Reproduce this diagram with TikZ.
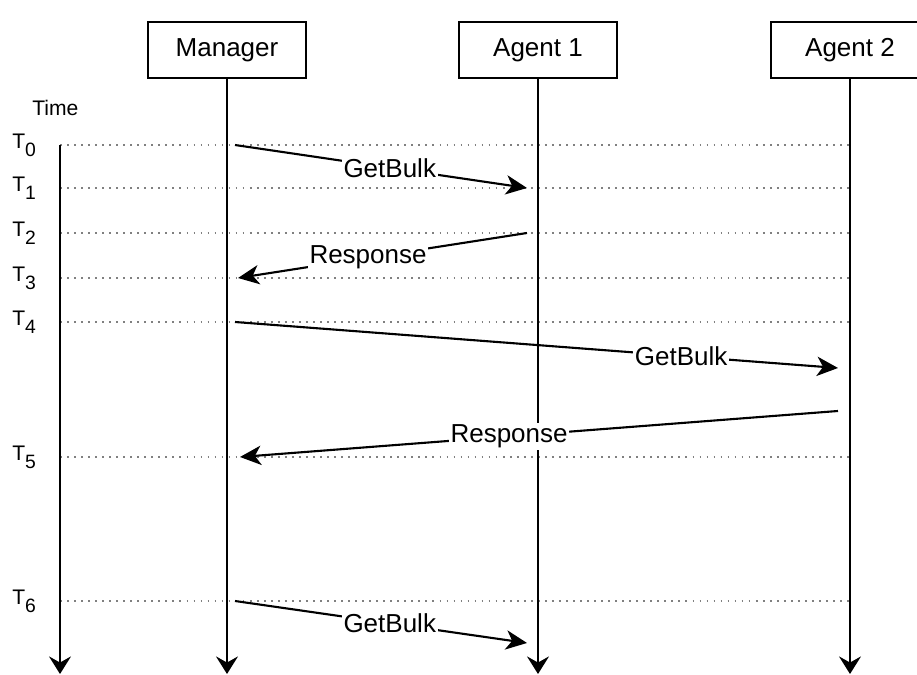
\documentclass[tikz,border=0pt]{standalone}
\usepackage{fontspec}
\setmainfont{Liberation Sans}
\usetikzlibrary{arrows.meta}

\newcommand{\tlabel}[1]{T\raisebox{-4.5pt}{\fontsize{11}{13}\selectfont #1}}

\begin{document}
\begin{tikzpicture}[x=0.02cm, y=-0.02cm, font=\fontsize{14.8}{17}\selectfont,
    actor/.style={draw, line width=0.9pt, minimum width=3.15cm, minimum height=1.12cm, inner sep=0pt},
    life/.style={line width=1.2pt, -{Stealth[length=10pt, width=12.5pt, inset=3.5pt]}},
    tick/.style={gray, line width=1pt, dash pattern=on 1pt off 3pt},
    msg/.style={line width=1.2pt, -{Stealth[length=12pt, width=11pt, inset=3.5pt]}},
    lbl/.style={fill=white, inner sep=1pt}]
    \useasboundingbox (0,0) rectangle (917,675);

    % Actors
    \node[actor] (mgr) at (227,50) {Manager};
    \node[actor] (ag1) at (538,50) {Agent 1};
    \node[actor] (ag2) at (850,50) {Agent 2};

    % Time axis
    \node[anchor=base west, inner sep=0pt, font=\fontsize{12}{14}\selectfont] (time) at (32,116) {Time};
    \coordinate (time-top) at (60,145);
    \coordinate (time-end) at (60,674);

    % Ticks
    \foreach \i/\y in {0/145, 1/188, 2/233, 3/278, 4/322, 5/457, 6/601} {
        \coordinate (tick\i-a) at (60,\y);
        \coordinate (tick\i-b) at (850,\y);
        \draw[tick] (tick\i-a) -- (tick\i-b);
        \node[anchor=base west, inner sep=0pt, font=\fontsize{12}{14}\selectfont] (T\i) at (12,\y+4) {\tlabel{\i}};
    }

    % Lifelines
    \coordinate (mgr-end) at (227,674);
    \coordinate (ag1-end) at (538,674);
    \coordinate (ag2-end) at (850,674);
    \draw[life] (time-top) -- (time-end);
    \draw[life] (mgr.south) -- (mgr-end);
    \draw[life] (ag1.south) -- (ag1-end);
    \draw[life] (ag2.south) -- (ag2-end);

    % Message end points
    \coordinate (m1-s) at (235,145);
    \coordinate (m1-e) at (527,188);
    \coordinate (m2-s) at (527,233);
    \coordinate (m2-e) at (238,278);
    \coordinate (m3-s) at (235,322);
    \coordinate (m3-e) at (838,368);
    \coordinate (m4-s) at (838,411);
    \coordinate (m4-e) at (240,457);
    \coordinate (m5-s) at (235,601);
    \coordinate (m5-e) at (527,643);

    % Messages
    \draw[msg] (m1-s) -- node[lbl, pos=0.53] (l1) {GetBulk} (m1-e);
    \draw[msg] (m2-s) -- node[lbl, pos=0.55] (l2) {Response} (m2-e);
    \draw[msg] (m3-s) -- node[lbl, pos=0.74] (l3) {GetBulk} (m3-e);
    \draw[msg] (m4-s) -- node[lbl, pos=0.55] (l4) {Response} (m4-e);
    \draw[msg] (m5-s) -- node[lbl, pos=0.53] (l5) {GetBulk} (m5-e);
\end{tikzpicture}
\end{document}
